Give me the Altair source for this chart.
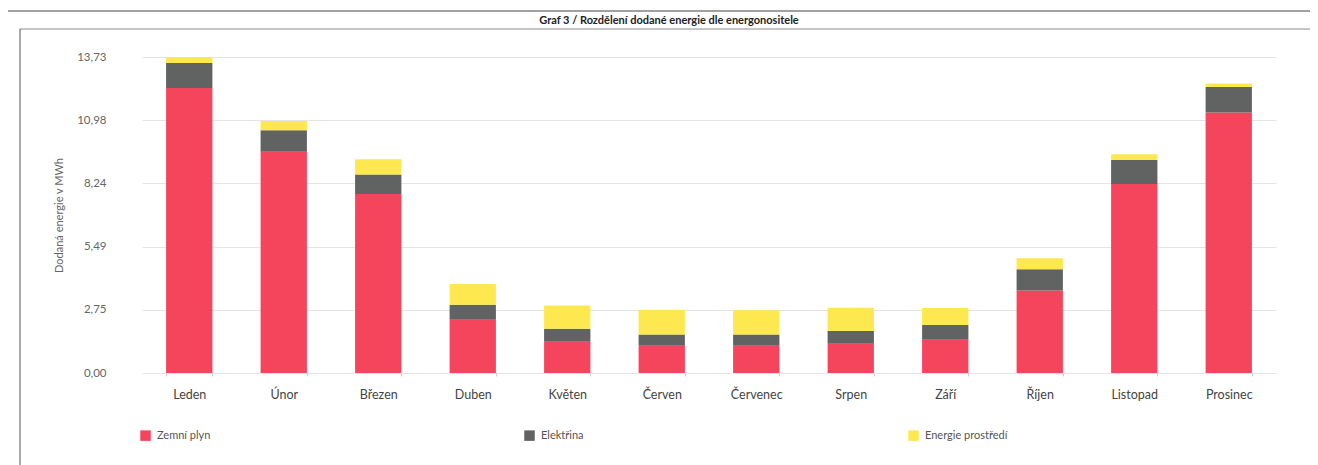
import altair as alt
import pandas as pd

# ---- data ----
months = ["Leden", "Únor", "Březen", "Duben", "Květen", "Červen",
          "Červenec", "Srpen", "Září", "Říjen", "Listopad", "Prosinec"]
zemni_plyn = [12.38, 9.61, 7.78, 2.31, 1.36, 1.18, 1.18, 1.27, 1.44, 3.58, 8.21, 11.32]
elektrina = [1.09, 0.94, 0.85, 0.65, 0.56, 0.49, 0.49, 0.56, 0.65, 0.93, 1.04, 1.11]
energie_prostredi = [0.26, 0.40, 0.66, 0.91, 1.01, 1.08, 1.06, 1.00, 0.73, 0.48, 0.25, 0.15]

series_names = ["Zemní plyn", "Elektřina", "Energie prostředí"]
series_colors = ["#f4455c", "#616262", "#fde94f"]
y_ticks = [0, 2.746, 5.492, 8.238, 10.984, 13.73]
y_max = 13.73
title_text = "Graf 3 / Rozdělení dodané energie dle energonositele"
y_title = "Dodaná energie v MWh"

rows = []
for i, m in enumerate(months):
    for k, (name, vals) in enumerate(zip(series_names,
                                         [zemni_plyn, elektrina, energie_prostredi])):
        rows.append({"mesic": m, "nosic": name, "hodnota": vals[i], "poradi": k})
df = pd.DataFrame(rows)

FONT = "Lato"
W, H = 1134, 316
OX, OY = 142, 57  # page position of plot origin

bars = alt.Chart(df).mark_bar().encode(
    x=alt.X("mesic:N", sort=months,
            scale=alt.Scale(paddingInner=0.51, paddingOuter=0.255),
            axis=alt.Axis(title=None, labelAngle=0, labelFontSize=12.5,
                          labelColor="#444444", labelPadding=12, labelFont=FONT,
                          tickBand="extent", ticks=True, tickSize=3,
                          tickColor="#cccccc", domain=False, grid=False)),
    y=alt.Y("hodnota:Q", stack="zero",
            scale=alt.Scale(domain=[0, y_max], nice=False, zero=True),
            axis=alt.Axis(values=y_ticks, title=y_title,
                          labelExpr="replace(format(datum.value, '.2f'), '.', ',')",
                          labelFontSize=11.5, labelColor="#666666", labelFont=FONT,
                          labelPadding=36, ticks=False, domain=False,
                          grid=True, gridColor="#e4e4e4",
                          titleFontSize=11, titleFontWeight="normal",
                          titleColor="#666666", titleFont=FONT, titlePadding=12)),
    color=alt.Color("nosic:N",
                    scale=alt.Scale(domain=series_names, range=series_colors),
                    legend=alt.Legend(title=None, orient="none",
                                      legendX=-2, legendY=373,
                                      direction="horizontal", columns=3,
                                      gridAlign="all", columnPadding=284,
                                      symbolType="square", symbolSize=110,
                                      symbolStrokeWidth=0,
                                      labelFontSize=11, labelColor="#555555",
                                      labelFont=FONT, labelOffset=6)),
    order=alt.Order("poradi:Q", sort="ascending"),
)

frame_df = pd.DataFrame({"d": [0]})
title_mark = alt.Chart(frame_df).mark_text(
    fontSize=11, fontWeight="bold", color="#222222", font=FONT,
    align="center", baseline="alphabetic").encode(
    x=alt.value(669 - OX), y=alt.value(24 - OY), text=alt.value(title_text))
frame_h1 = alt.Chart(frame_df).mark_rule(color="#444444", strokeWidth=1.2).encode(
    x=alt.value(8 - OX), x2=alt.value(1318 - OX), y=alt.value(11 - OY))
frame_h2 = alt.Chart(frame_df).mark_rule(color="#8a8a8a", strokeWidth=1).encode(
    x=alt.value(20 - OX), x2=alt.value(1318 - OX), y=alt.value(29 - OY))
frame_v1 = alt.Chart(frame_df).mark_rule(color="#555555", strokeWidth=1).encode(
    x=alt.value(20 - OX), y=alt.value(29 - OY), y2=alt.value(470 - OY))
frame_v2 = alt.Chart(frame_df).mark_rule(color="#555555", strokeWidth=1).encode(
    x=alt.value(1316 - OX), y=alt.value(330 - OY), y2=alt.value(470 - OY))

chart = alt.layer(bars, title_mark, frame_h1, frame_h2, frame_v1, frame_v2).properties(
    width=W, height=H,
    autosize=alt.AutoSizeParams(type="none"),
    padding={"left": OX - 8, "top": OY - 8, "right": 1318 - 8 - OX - W, "bottom": 100},
).configure_view(stroke=None)

chart.save("out.html", embed_options={"renderer": "svg", "actions": False})
